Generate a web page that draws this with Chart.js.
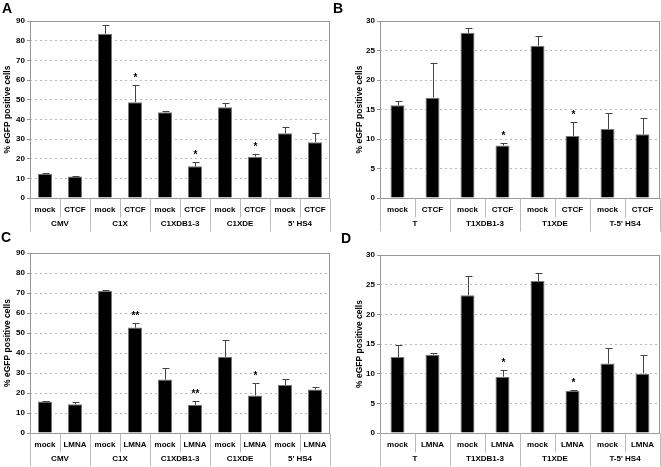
<!DOCTYPE html>
<html>
<head>
<meta charset="utf-8">
<script src="https://cdn.jsdelivr.net/npm/chart.js@4/dist/chart.umd.min.js"></script>
<style>
  body { margin: 0; background: #fff; }
  #wrap { position: relative; width: 661px; height: 467px; overflow: hidden; }
  canvas { position: absolute; }
  .letter { position: absolute; font: bold 14px "Liberation Sans", Arial, sans-serif; color: #000; }
</style>
</head>
<body>
<div id="wrap">
  <canvas id="chartA" width="331" height="233" style="left:0;top:0"></canvas>
  <canvas id="chartB" width="331" height="233" style="left:330px;top:0"></canvas>
  <canvas id="chartC" width="331" height="234" style="left:0;top:233px"></canvas>
  <canvas id="chartD" width="331" height="234" style="left:330px;top:233px"></canvas>
  <div class="letter" style="left:2px;top:0px">A</div>
  <div class="letter" style="left:333px;top:0px">B</div>
  <div class="letter" style="left:1px;top:229px">C</div>
  <div class="letter" style="left:341px;top:230px">D</div>
</div>
<script>
// --- данные панелей ---
const groupsAC = ['CMV', 'C1X', 'C1XDB1-3', 'C1XDE', "5' HS4"];
const groupsBD = ['T', 'T1XDB1-3', 'T1XDE', "T-5' HS4"];
const condCTCF = ['mock', 'CTCF'];
const condLMNA = ['mock', 'LMNA'];

const valuesA = [12.3, 10.9, 83.5, 48.7, 43.6, 16.1, 46.1, 21.0, 32.9, 28.4];
const errorsA = [0.3, 0.4, 4.5, 9.0, 0.4, 2.3, 2.2, 1.6, 3.1, 4.6];
const starsA = ['', '', '', '*', '', '*', '', '*', '', ''];

const valuesB = [15.7, 17.0, 28.0, 8.9, 25.8, 10.5, 11.7, 10.8];
const errorsB = [0.7, 5.9, 0.8, 0.5, 1.6, 2.3, 2.7, 2.7];
const starsB = ['', '', '', '*', '', '*', '', ''];

const valuesC = [15.7, 14.4, 71.0, 52.7, 26.7, 14.1, 38.1, 18.8, 24.0, 21.7];
const errorsC = [0.5, 0.9, 0.5, 2.3, 6.0, 1.8, 8.4, 6.2, 3.0, 1.3];
const starsC = ['', '', '', '**', '', '**', '', '*', '', ''];

const valuesD = [12.8, 13.2, 23.2, 9.5, 25.6, 7.1, 11.7, 10.0];
const errorsD = [2.0, 0.2, 3.3, 1.2, 1.4, 0.1, 2.7, 3.1];
const starsD = ['', '', '', '*', '', '*', '', ''];

const FONT = '"Liberation Sans", Arial, sans-serif';

// Ошибки, звёздочки, рамка и двухуровневые подписи оси X
const extrasPlugin = {
    id: 'extras',
    afterDatasetsDraw(chart, args, opts) {
        const ctx = chart.ctx;
        const area = chart.chartArea;
        const xs = chart.scales.x;
        const ys = chart.scales.y;
        const vals = chart.data.datasets[0].data;

        ctx.save();
        // error bars
        ctx.strokeStyle = '#444';
        ctx.lineWidth = 1;
        ctx.fillStyle = '#000';
        ctx.font = 'bold 10px ' + FONT;
        ctx.textAlign = 'center';
        ctx.textBaseline = 'alphabetic';
        vals.forEach((v, i) => {
            const cx = Math.round(xs.getPixelForValue(i)) + 0.5;
            const yBar = ys.getPixelForValue(v);
            const yTop = Math.round(ys.getPixelForValue(v + opts.errors[i])) + 0.5;
            ctx.beginPath();
            ctx.moveTo(cx, yBar);
            ctx.lineTo(cx, yTop);
            ctx.moveTo(cx - 3, yTop);
            ctx.lineTo(cx + 4, yTop);
            ctx.stroke();
            if (opts.stars[i]) {
                ctx.fillText(opts.stars[i], cx, yTop - 5);
            }
        });

        // рамка области построения
        ctx.strokeStyle = '#999';
        const l = Math.round(area.left) + 0.5, r = Math.round(area.right) - 0.5;
        const t = Math.round(area.top) + 0.5, b = Math.round(area.bottom) + 0.5;
        ctx.strokeRect(l, t, r - l, b - t);

        // подписи категорий
        const step = xs.getPixelForValue(1) - xs.getPixelForValue(0);
        ctx.strokeStyle = '#bbb';
        ctx.font = 'bold 8px ' + FONT;
        ctx.textBaseline = 'middle';
        for (let i = 0; i <= vals.length; i++) {
            const sx = Math.round(xs.getPixelForValue(i) - step / 2) + 0.5;
            const len = (i % 2 === 0) ? 33 : 19;
            ctx.beginPath();
            ctx.moveTo(sx, b);
            ctx.lineTo(sx, b + len);
            ctx.stroke();
        }
        chart.data.labels.forEach((lab, i) => {
            ctx.fillText(lab, xs.getPixelForValue(i), b + 11.5);
        });
        opts.groups.forEach((g, k) => {
            const gx = (xs.getPixelForValue(2 * k) + xs.getPixelForValue(2 * k + 1)) / 2;
            ctx.fillText(g, gx, b + 25);
        });
        ctx.restore();
    }
};

function makePanel(id, groups, conds, values, errors, stars, yMax, yStep, pad, titlePad, barPct) {
    const labels = [];
    groups.forEach(() => conds.forEach(c => labels.push(c)));
    const ctx = document.getElementById(id).getContext('2d');
    return new Chart(ctx, {
        type: 'bar',
        data: {
            labels: labels,
            datasets: [{
                data: values,
                backgroundColor: '#000',
                borderColor: '#777',
                borderWidth: 1,
                barPercentage: barPct,
                categoryPercentage: 1
            }]
        },
        options: {
            responsive: false,
            animation: false,
            layout: { padding: pad },
            plugins: {
                legend: { display: false },
                tooltip: { enabled: false },
                extras: { groups: groups, errors: errors, stars: stars }
            },
            scales: {
                x: { display: false },
                y: {
                    min: 0,
                    max: yMax,
                    ticks: {
                        stepSize: yStep,
                        color: '#000',
                        padding: 2,
                        font: { family: FONT, size: 8, weight: 'bold' }
                    },
                    grid: {
                        color: '#bbb',
                        tickColor: '#999',
                        tickLength: 3,
                        tickBorderDash: []
                    },
                    border: { display: false, dash: [2, 3] },
                    title: {
                        display: true,
                        text: '% eGFP positive cells',
                        color: '#000',
                        padding: { top: titlePad, bottom: 0 },
                        font: { family: FONT, size: 8.5, weight: 'bold' }
                    },
                    afterFit(scale) { scale.width = 30; }
                }
            }
        },
        plugins: [extrasPlugin]
    });
}

makePanel('chartA', groupsAC, condCTCF, valuesA, errorsA, starsA, 90, 10,
    { left: 0, right: 1, top: 21, bottom: 35 }, 3, 0.47);
makePanel('chartB', groupsBD, condCTCF, valuesB, errorsB, starsB, 30, 5,
    { left: 20, right: 1, top: 21, bottom: 35 }, 5, 0.4);
makePanel('chartC', groupsAC, condLMNA, valuesC, errorsC, starsC, 90, 10,
    { left: 0, right: 1, top: 20, bottom: 34 }, 3, 0.47);
makePanel('chartD', groupsBD, condLMNA, valuesD, errorsD, starsD, 30, 5,
    { left: 20, right: 1, top: 22, bottom: 34 }, 5, 0.4);
</script>
</body>
</html>
